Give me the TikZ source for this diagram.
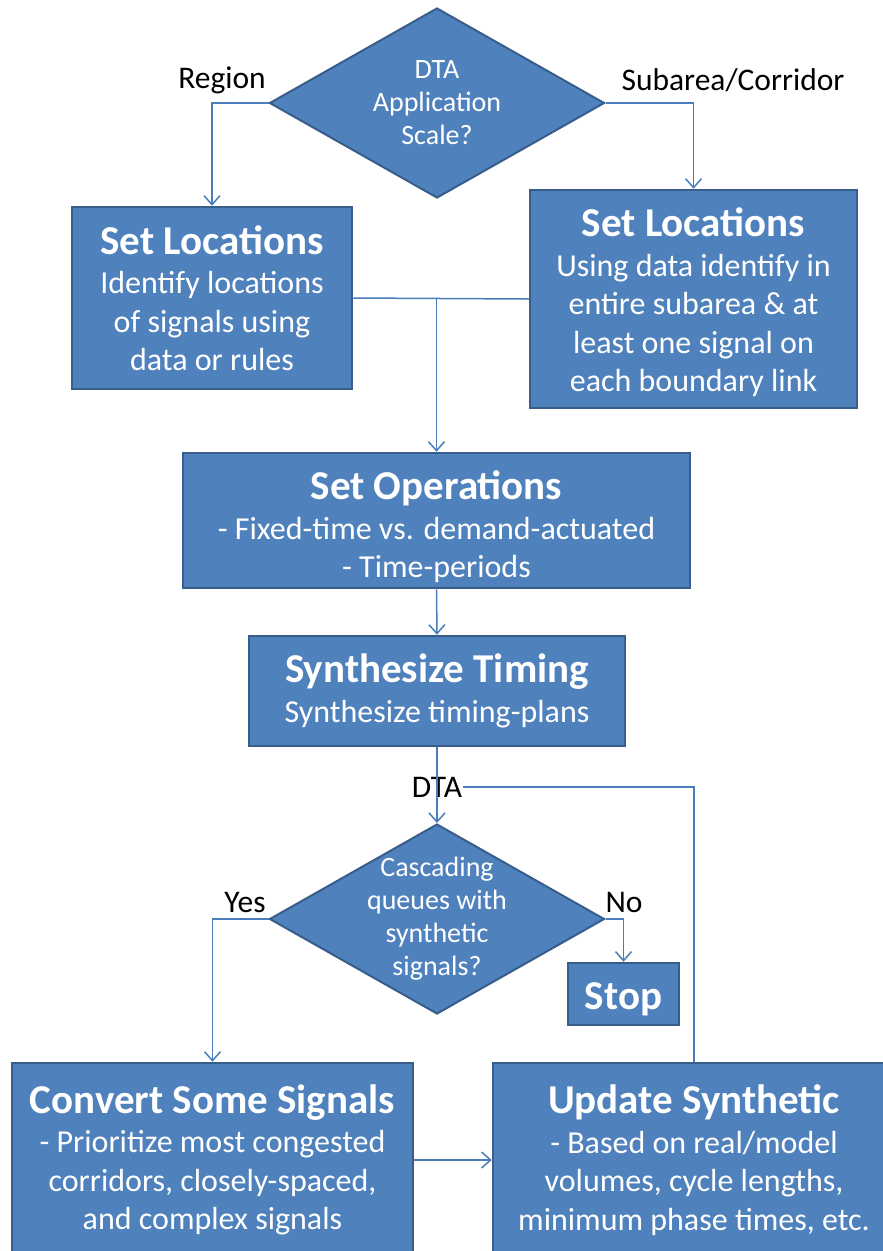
\documentclass[tikz,border=0pt]{standalone}
\usepackage{fontspec}
\setmainfont{Carlito}
\usepackage{tikz}
\usetikzlibrary{arrows.meta,positioning,shapes.geometric}

\definecolor{boxfill}{RGB}{79,129,189}
\definecolor{boxline}{RGB}{56,93,138}
\definecolor{wire}{RGB}{74,126,187}

\newcommand{\hd}[2][0pt]{{\fontsize{41}{44}\selectfont\bfseries\rule{0pt}{#1}#2}}

\begin{document}
\begin{tikzpicture}[x=1pt,y=-1pt,
  >={Straight Barb[length=9pt,width=16pt]},
  blk/.style={draw=boxline,line width=2.5pt,fill=boxfill,text=white,align=center,
    font=\fontsize{32}{38.5}\selectfont,inner sep=0pt},
  dia/.style={diamond,aspect=1.76,draw=boxline,line width=2pt,fill=boxfill,text=white,
    align=center,font=\fontsize{28}{33}\selectfont,inner sep=-12pt,
    minimum width=335pt,minimum height=190pt},
  lbl/.style={text=black,font=\fontsize{31.5}{34}\selectfont,inner sep=1pt},
  link/.style={draw=wire,line width=1.5pt}]
  % page
  \useasboundingbox (0,0) rectangle (883,1251);
  \clip (0,0) rectangle (883,1251);

  % first decision
  \node[dia] (scale) at (437,103) {DTA\\Application\\Scale?};
  \node[lbl] (region) at (222,80) {Region};
  \node[lbl] (subarea) at (733,80) {Subarea/Corridor};

  % locations
  \node[blk,minimum width=280pt,minimum height=182pt] (locR) at (212,298)
    {\hd{Set Locations}\\[1pt] Identify locations\\ of signals using\\ data or rules};
  \node[blk,minimum width=327pt,minimum height=218pt] (locS) at (693.5,299)
    {\hd[36pt]{Set Locations}\\[1pt] Using data identify in\\ entire subarea \& at\\ least one signal on\\ each boundary link};

  % operations and timing
  \node[blk,minimum width=507pt,minimum height=135pt] (ops) at (436.5,520.5)
    {\hd[42pt]{Set Operations}\\[1pt] - Fixed-time vs. demand-actuated\\ - Time-periods};
  \node[blk,minimum width=376pt,minimum height=110pt] (synth) at (437,691)
    {\hd{Synthesize Timing}\\[1pt] Synthesize timing-plans};

  % second decision
  \node[lbl] (dta) at (437,787) {DTA};
  \node[dia] (cascade) at (437,919) {Cascading\\queues with\\synthetic\\signals?};
  \node[lbl] (yes) at (245,902) {Yes};
  \node[lbl] (no) at (624,902) {No};
  \node[blk,minimum width=111pt,minimum height=62pt] (stop) at (623.5,994) {\hd[38pt]{Stop}};

  % bottom boxes
  \node[blk,minimum width=401pt,minimum height=194pt] (conv) at (212.5,1160)
    {\hd{Convert Some Signals}\\[1pt] - Prioritize most congested\\ corridors, closely-spaced,\\ and complex signals};
  \node[blk,minimum width=402pt,minimum height=194pt] (update) at (694,1160)
    {\hd{Update Synthetic}\\[1pt] - Based on real/model\\ volumes, cycle lengths,\\ minimum phase times, etc.};

  % connectors
  \draw[link,->] (scale.west) -| (locR.north);
  \draw[link,->] (scale.east) -| (locS.north);
  \draw[link] (locR.east) -- (locS.west);
  \draw[link,->] (locR.east -| ops.north) -- (ops.north);
  \draw[link,->] (ops.south) -- (synth.north);
  \draw[link,->] (synth.south) -- (cascade.north);
  \draw[link] (update.north) |- (dta.east);
  \draw[link,->] (cascade.west) -| (conv.north);
  \draw[link,->] (cascade.east) -| (stop.north);
  \draw[link,->] (conv.east) -- (update.west);
\end{tikzpicture}
\end{document}
